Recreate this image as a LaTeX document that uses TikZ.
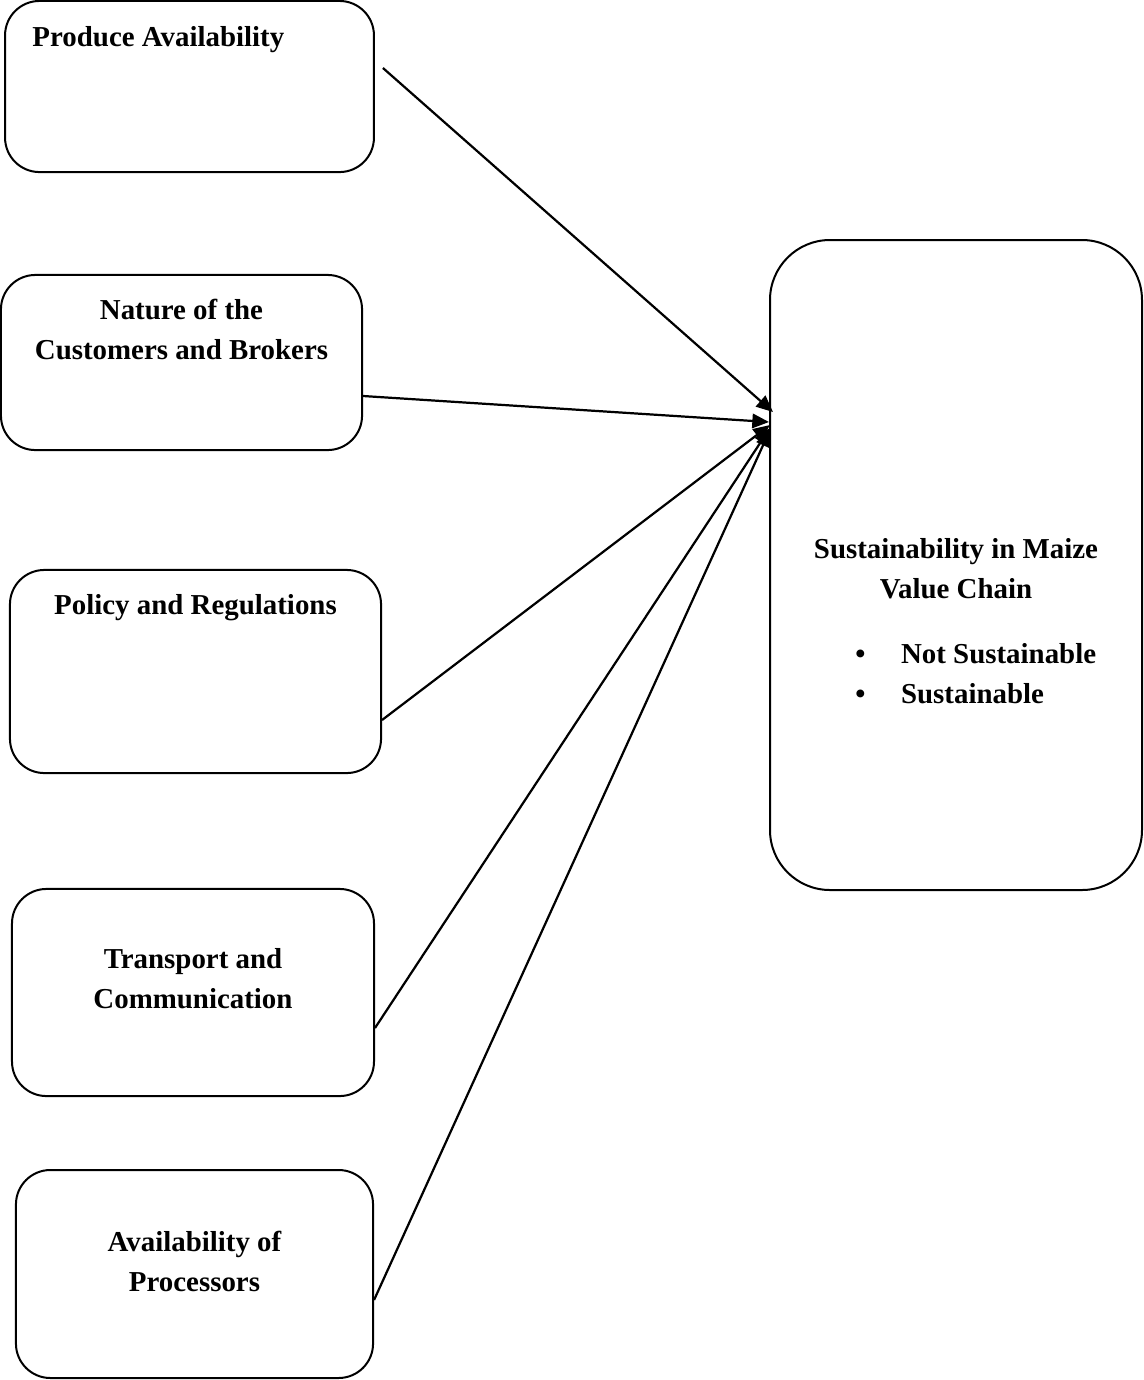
\documentclass[tikz,border=0pt]{standalone}
\usepackage{fontspec}
\setmainfont{Liberation Serif}
\usepackage{tikz}
\usetikzlibrary{arrows.meta}
\tikzset{
    factor-box/.style = {draw=black, line width=0.9pt, rectangle, rounded corners=15.5pt, inner sep=0pt},
    outcome-box/.style = {draw=black, line width=0.9pt, rectangle, rounded corners=27pt, inner sep=0pt, minimum width=167.4pt, minimum height=292.5pt},
    box-text/.style = {font=\fontsize{13}{18}\selectfont\bfseries, align=center, inner sep=0pt},
    link-arrow/.style = {line width=1pt, -{Triangle[length=7.5pt,width=6.5pt]}},
}

\begin{document}
\begin{tikzpicture}[x=0.45pt,y=-0.45pt]
\useasboundingbox (0,0) rectangle (1144,1380);
% factor boxes
\node [factor-box, minimum width=166pt, minimum height=77pt] (prod) at (189.5,86.5) {};
\node [factor-box, minimum width=162.5pt, minimum height=78.8pt] (nat) at (181.5,362.5) {};
\node [factor-box, minimum width=167pt, minimum height=91.4pt] (pol) at (195.5,671.5) {};
\node [factor-box, minimum width=162.9pt, minimum height=93.2pt] (trans) at (193,992.5) {};
\node [factor-box, minimum width=160.7pt, minimum height=93.6pt] (proc) at (194.5,1274) {};
\node [box-text, anchor=west] at ([shift={(28,40)}]prod.north west) {Produce Availability};
\node [box-text] at ([shift={(0,56)}]nat.north) {Nature of the\\Customers and Brokers};
\node [box-text] at ([shift={(0,39)}]pol.north) {Policy and Regulations};
\node [box-text] at ([shift={(0,91)}]trans.north) {Transport and\\Communication};
\node [box-text] at ([shift={(0,92)}]proc.north) {Availability of\\Processors};
% outcome box
\node [outcome-box] (sust) at (956,565) {};
\node [box-text] at ([shift={(0,4)}]sust.center) {Sustainability in Maize\\Value Chain};
\node [box-text, anchor=west, align=left] at (855,675) {%
    \begin{tabular}{@{}l@{\hspace{16pt}}l@{}}
    \textbullet & Not Sustainable\\
    \textbullet & Sustainable
    \end{tabular}};
\coordinate (hub) at ([shift={(1,-143)}]sust.west);
% links
\draw [link-arrow] ([shift={(8,-18.5)}]prod.east) -- ([shift={(3,-10)}]hub);
\draw [link-arrow] ([shift={(0,33.5)}]nat.east) -- ([shift={(-1,0)}]hub);
\draw [link-arrow] ([shift={(0,48.5)}]pol.east) -- ([shift={(0,3)}]hub);
\draw [link-arrow] ([shift={(0,35.5)}]trans.east) -- ([shift={(0,6)}]hub);
\draw [link-arrow] ([shift={(0,26)}]proc.east) -- ([shift={(0,8)}]hub);
\end{tikzpicture}
\end{document}
